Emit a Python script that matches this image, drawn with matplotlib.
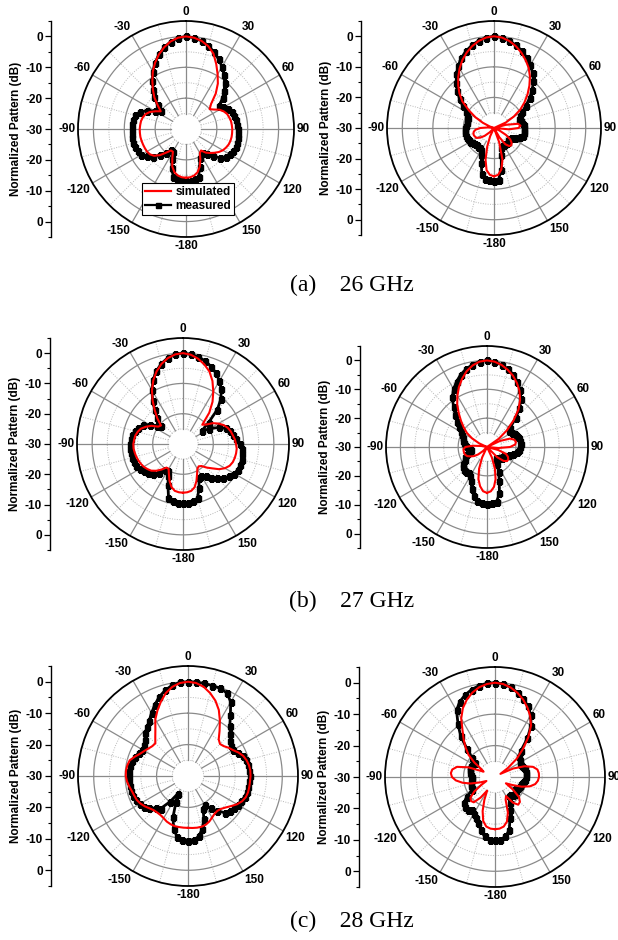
import numpy as np
import matplotlib
matplotlib.use("Agg")
import matplotlib.pyplot as plt
from matplotlib.lines import Line2D

plt.rcParams['font.family'] = ['Liberation Sans', 'DejaVu Sans']

# sample angles in degrees (clockwise, 0 = broadside), -180 ... 175
ANGLES = np.arange(-180, 180, 5)

# 26 GHz, left / right pattern (dB)
P26_L_SIM = [-14.2, -14.3, -14.7, -15.5, -17.0, -19.5, -21.5, -21.5, -20.0, -18.0, -16.5, -15.7,
             -15.4, -15.3, -15.2, -15.1, -15.0, -15.0, -15.0, -15.1, -15.2, -15.5, -16.0, -17.0,
             -18.5, -20.0, -18.0, -15.5, -13.3, -11.0, -8.5, -6.3, -4.3, -2.6, -1.2, -0.3,
             0.0, -0.3, -1.0, -2.2, -4.0, -6.8, -9.5, -12.0, -15.0, -18.5, -20.0, -19.0,
             -17.5, -16.5, -15.8, -15.5, -15.2, -15.1, -15.0, -15.0, -15.0, -15.1, -15.3, -15.7,
             -16.2, -17.0, -18.0, -19.0, -20.0, -21.5, -21.0, -19.0, -17.0, -15.5, -14.7, -14.3]
P26_L_MEAS = [-13.2, -13.3, -13.6, -14.0, -16.6, -19.2, -21.5, -21.5, -20.0, -18.0, -16.0, -14.5,
              -13.3, -12.8, -12.5, -12.3, -12.3, -12.3, -12.4, -12.5, -12.7, -13.0, -14.0, -16.0,
              -18.5, -20.0, -18.0, -15.5, -13.5, -11.0, -8.5, -6.3, -4.3, -2.6, -1.3, -0.4,
              0.0, -0.3, -1.0, -2.0, -3.5, -5.0, -6.7, -8.5, -10.5, -12.5, -14.5, -17.0,
              -16.0, -15.0, -14.3, -13.8, -13.5, -13.3, -13.2, -13.1, -13.0, -12.9, -12.8, -13.2,
              -13.7, -14.3, -15.5, -17.5, -19.5, -20.5, -20.5, -19.5, -17.0, -14.0, -13.4, -13.2]
P26_R_SIM = [-14.2, -14.6, -16.0, -19.3, -23.5, -27.0, -30.0, -30.0, -30.0, -28.0, -26.0, -24.5,
             -23.5, -23.2, -23.0, -23.0, -23.3, -24.0, -25.5, -28.0, -30.0, -30.0, -28.5, -26.0,
             -23.0, -20.0, -16.5, -14.0, -11.8, -9.6, -7.5, -5.5, -3.8, -2.3, -1.1, -0.3,
             0.0, -0.3, -1.1, -2.3, -3.8, -5.5, -7.3, -9.5, -12.0, -14.5, -17.0, -19.5,
             -22.5, -25.7, -30.0, -26.0, -22.0, -21.3, -22.0, -25.0, -30.0, -30.0, -30.0, -28.0,
             -25.5, -23.5, -22.5, -22.0, -22.3, -23.5, -26.5, -30.0, -25.0, -19.3, -16.2, -14.6]
P26_R_MEAS = [-12.6, -12.8, -13.2, -14.5, -17.9, -20.2, -21.7, -22.0, -22.0, -22.0, -21.8, -21.5,
              -21.0, -20.8, -20.6, -20.5, -20.4, -20.4, -20.4, -20.7, -21.0, -21.0, -20.8, -20.3,
              -19.5, -17.5, -15.3, -13.0, -10.8, -8.5, -6.5, -4.7, -3.2, -2.0, -1.0, -0.3,
              0.0, -0.3, -1.0, -2.0, -3.2, -4.6, -6.2, -8.0, -10.0, -12.3, -14.8, -17.3,
              -19.3, -20.5, -21.2, -21.0, -20.6, -20.3, -20.3, -20.2, -20.2, -20.3, -21.0, -22.5,
              -23.5, -24.0, -24.0, -23.5, -23.5, -23.5, -23.5, -23.5, -23.0, -20.8, -16.2, -13.0]

# 27 GHz
P27_L_SIM = [-13.9, -14.0, -14.3, -15.3, -17.0, -19.0, -20.5, -20.5, -19.0, -17.5, -16.3, -15.6,
             -15.0, -14.6, -14.3, -14.0, -13.8, -13.6, -13.6, -13.8, -14.0, -14.5, -15.2, -16.5,
             -18.0, -20.0, -20.5, -18.0, -15.5, -12.5, -9.5, -6.8, -4.5, -2.6, -1.2, -0.3,
             0.0, -0.4, -1.4, -2.8, -4.5, -7.0, -10.0, -13.0, -16.5, -21.0, -20.0, -18.0,
             -16.5, -15.2, -14.3, -13.7, -13.3, -12.8, -12.5, -12.2, -12.2, -12.3, -12.5, -13.0,
             -14.0, -15.5, -17.5, -19.0, -20.5, -21.0, -20.5, -19.0, -17.0, -15.2, -14.3, -14.0]
P27_L_MEAS = [-10.4, -10.5, -10.8, -11.5, -15.5, -18.5, -19.8, -19.5, -17.5, -16.0, -15.0, -14.2,
              -13.5, -13.0, -12.7, -12.5, -12.5, -12.5, -12.5, -12.7, -13.0, -13.5, -14.2, -15.5,
              -17.3, -19.5, -20.5, -18.0, -15.5, -12.5, -9.5, -6.6, -4.3, -2.5, -1.1, -0.3,
              0.0, -0.3, -0.8, -1.6, -2.8, -4.2, -6.0, -8.0, -10.5, -14.0, -19.0, -22.5,
              -20.0, -17.0, -15.0, -14.0, -13.3, -12.3, -11.3, -10.6, -10.2, -10.0, -9.9, -10.0,
              -10.5, -11.3, -12.6, -14.0, -15.5, -17.0, -17.8, -17.5, -14.5, -11.5, -10.8, -10.5]
P27_R_SIM = [-14.1, -14.6, -16.2, -18.5, -22.0, -26.0, -30.0, -30.0, -30.0, -28.0, -26.0, -24.5,
             -23.5, -22.5, -22.0, -21.8, -21.8, -21.8, -22.5, -25.0, -28.0, -30.0, -30.0, -27.0,
             -24.0, -21.5, -19.5, -17.3, -14.8, -12.0, -9.5, -7.0, -4.8, -2.8, -1.3, -0.3,
             0.0, -0.3, -1.1, -2.3, -3.7, -5.5, -7.5, -10.0, -13.0, -17.0, -21.0, -25.0,
             -30.0, -25.0, -21.5, -20.2, -19.8, -20.2, -22.0, -26.0, -30.0, -26.0, -23.0, -22.0,
             -21.5, -21.5, -22.5, -25.0, -30.0, -30.0, -30.0, -26.0, -22.0, -18.5, -16.0, -14.6]
P27_R_MEAS = [-10.4, -10.6, -11.0, -12.5, -14.5, -17.0, -18.5, -19.0, -18.8, -18.5, -19.0, -20.0,
              -21.0, -21.7, -22.5, -24.0, -24.5, -24.0, -23.0, -22.5, -22.0, -21.5, -21.0, -20.5,
              -19.5, -18.0, -16.5, -14.5, -12.0, -9.0, -6.8, -5.0, -3.3, -2.0, -1.0, -0.3,
              0.0, -0.3, -1.0, -2.0, -3.3, -5.0, -7.0, -9.5, -12.5, -16.0, -19.5, -20.5,
              -20.0, -19.3, -18.8, -18.5, -18.3, -18.3, -18.5, -18.8, -19.3, -20.5, -22.0, -23.0,
              -23.5, -23.5, -24.0, -24.5, -25.0, -24.5, -23.0, -20.5, -17.5, -13.4, -10.8, -10.5]

# 28 GHz
P28_L_SIM = [-13.5, -13.5, -13.5, -13.5, -13.7, -14.0, -14.5, -14.8, -14.8, -14.6, -14.0, -13.2,
             -12.5, -12.0, -11.8, -11.5, -11.0, -10.5, -10.2, -10.2, -10.4, -10.8, -12.0, -13.2,
             -14.0, -14.7, -15.2, -15.3, -13.8, -11.9, -9.2, -7.0, -4.8, -2.7, -1.2, -0.3,
             0.0, -0.3, -1.2, -2.7, -4.5, -6.8, -9.7, -12.5, -14.8, -15.6, -15.2, -14.3,
             -13.5, -12.3, -11.3, -10.7, -10.3, -10.1, -10.1, -10.2, -10.2, -10.2, -10.4, -11.0,
             -12.0, -13.3, -14.4, -15.2, -15.5, -15.3, -14.7, -14.0, -13.5, -13.3, -13.3, -13.4]
P28_L_MEAS = [-9.3, -9.5, -10.2, -12.5, -16.0, -21.0, -23.5, -20.0, -16.5, -15.5, -14.0, -13.0,
              -12.3, -11.8, -11.5, -11.3, -11.2, -11.2, -11.2, -11.2, -11.3, -11.5, -12.0, -12.7,
              -13.2, -13.0, -12.0, -10.8, -9.8, -8.5, -6.8, -5.0, -3.2, -1.8, -0.7, -0.1,
              0.0, 0.0, -0.1, -0.2, -0.3, -0.8, -2.8, -6.5, -9.3, -11.0, -12.5, -13.3,
              -13.5, -12.5, -11.5, -10.8, -10.5, -10.4, -10.4, -10.4, -10.5, -10.6, -10.8, -11.3,
              -11.8, -12.3, -12.5, -13.5, -15.5, -17.5, -19.5, -18.5, -15.3, -12.5, -10.5, -9.5]
P28_R_SIM = [-13.4, -13.5, -14.0, -15.5, -18.5, -22.0, -25.0, -22.0, -19.5, -19.2, -19.8, -22.0,
             -25.0, -27.0, -25.0, -22.0, -19.5, -17.5, -16.3, -15.9, -16.2, -17.5, -21.0, -26.0,
             -25.0, -22.0, -19.0, -16.8, -14.5, -12.0, -8.5, -5.8, -3.8, -2.2, -1.0, -0.3,
             0.0, -0.3, -1.1, -2.3, -3.8, -5.6, -7.6, -10.0, -13.5, -17.5, -21.0, -25.0,
             -28.0, -23.6, -20.0, -17.5, -16.3, -16.0, -16.0, -16.3, -17.0, -18.5, -21.0, -24.0,
             -26.0, -23.0, -20.0, -18.8, -18.5, -20.0, -23.0, -22.0, -18.0, -15.3, -14.0, -13.5]
P28_R_MEAS = [-9.8, -10.0, -10.8, -12.5, -14.5, -15.5, -16.5, -17.0, -16.5, -16.5, -17.0, -19.0,
              -21.5, -22.0, -22.0, -22.0, -22.2, -22.5, -22.6, -22.4, -22.0, -21.7, -21.4, -21.5,
              -22.0, -22.3, -20.5, -17.5, -13.0, -9.5, -5.5, -3.5, -2.2, -1.2, -0.5, -0.1,
              0.0, -0.3, -1.0, -2.2, -3.5, -5.2, -7.2, -10.0, -14.0, -18.5, -20.0, -20.3,
              -20.8, -20.8, -20.5, -20.2, -20.0, -20.0, -20.0, -20.5, -21.0, -21.3, -21.5, -22.0,
              -22.5, -22.0, -21.5, -22.0, -22.5, -22.5, -20.5, -18.5, -16.0, -12.5, -10.8, -10.0]

THETA_TICKS = [0, 30, 60, 90, 120, 150, 180, 210, 240, 270, 300, 330]
THETA_LABELS = ["0", "30", "60", "90", "120", "150", "-180", "-150", "-120", "-90", "-60", "-30"]
# left scale: 0 at top, -30 at the centre, 0 again at the bottom
SCALE_POS = [30, 20, 10, 0, -10, -20, -30]
SCALE_LABELS = ["0", "-10", "-20", "-30", "-20", "-10", "0"]
CAPTIONS = ["(a)    26 GHz", "(b)    27 GHz", "(c)    28 GHz"]
LEGEND_LABELS = ["simulated", "measured"]

R_MIN, R_MAX = -30, 5
W, H = 618, 940

# (centre x, centre y, radius, left scale x) in pixels
LAYOUT = [(186, 129, 108, 51), (494, 128, 107, 361),
          (183, 444, 106, 50), (487, 447, 101, 360),
          (188, 776, 110, 51), (495, 777, 110, 359)]
CAPTION_Y = [285, 601, 921]


def draw_panel(fig, cx, cy, rad, sx, sim, meas):
    ax = fig.add_axes([(cx - rad) / W, 1 - (cy + rad) / H, 2 * rad / W, 2 * rad / H],
                      projection='polar')
    ax.set_theta_zero_location('N')
    ax.set_theta_direction(-1)
    ax.set_ylim(R_MIN, R_MAX)
    ax.set_xticks([])
    ax.set_yticks([])
    ax.grid(False)
    ax.spines['polar'].set_linewidth(1.3)

    full = np.linspace(0, 2 * np.pi, 400)
    for r in (-25, -15, -5):
        ax.plot(full, np.full_like(full, r), color='#b8b8b8', lw=0.7, ls=(0, (1, 1.5)), zorder=1)
    for r in (-20, -10, 0):
        ax.plot(full, np.full_like(full, r), color='#8a8a8a', lw=0.9, zorder=1)
    for t in range(0, 360, 30):
        ax.plot([np.deg2rad(t)] * 2, [-25, R_MAX], color='#8a8a8a', lw=0.9, zorder=1)
    for t in range(15, 360, 30):
        ax.plot([np.deg2rad(t)] * 2, [-25, R_MAX], color='#b8b8b8', lw=0.7,
                ls=(0, (1, 1.5)), zorder=1)

    th = np.deg2rad(np.append(ANGLES, ANGLES[0]))
    ax.plot(th, np.append(meas, meas[0]), color='black', lw=2.0, marker='s', ms=3.6, zorder=3)
    ax.plot(th, np.append(sim, sim[0]), color='red', lw=1.5, zorder=4)

    for t, lab in zip(THETA_TICKS, THETA_LABELS):
        s, c = np.sin(np.deg2rad(t)), np.cos(np.deg2rad(t))
        ha = 'left' if s > 0.3 else ('right' if s < -0.3 else 'center')
        va = 'bottom' if c > 0.3 else ('top' if c < -0.3 else 'center')
        ax.annotate(lab, xy=(np.deg2rad(t), R_MAX), xytext=(2 * s, 2 * c),
                    textcoords='offset points', ha=ha, va=va, fontsize=8.5,
                    fontweight='bold', annotation_clip=False)

    # linear scale at the left
    axl = fig.add_axes([sx / W, 1 - (cy + rad) / H, 0.0001, 2 * rad / H])
    axl.patch.set_visible(False)
    for side in ('top', 'right', 'bottom'):
        axl.spines[side].set_visible(False)
    axl.spines['left'].set_linewidth(1.0)
    axl.set_ylim(-35, 35)
    axl.set_xticks([])
    axl.set_yticks(SCALE_POS)
    axl.set_yticklabels(SCALE_LABELS, fontweight='bold')
    axl.set_yticks(np.arange(-35, 36, 10), minor=True)
    axl.tick_params(axis='y', which='major', length=4, width=0.9, labelsize=8.5, pad=2)
    axl.tick_params(axis='y', which='minor', length=2.5, width=0.8)
    fig.text((sx - 35) / W, 1 - cy / H, "Normalized Pattern (dB)", rotation=90,
             ha='center', va='center', fontsize=8.5, fontweight='bold')


fig = plt.figure(figsize=(6.18, 9.40), dpi=100)

series = [(P26_L_SIM, P26_L_MEAS), (P26_R_SIM, P26_R_MEAS),
          (P27_L_SIM, P27_L_MEAS), (P27_R_SIM, P27_R_MEAS),
          (P28_L_SIM, P28_L_MEAS), (P28_R_SIM, P28_R_MEAS)]
for (cx, cy, rad, sx), (sim, meas) in zip(LAYOUT, series):
    draw_panel(fig, cx, cy, rad, sx, sim, meas)

handles = [Line2D([], [], color='red', lw=1.6),
           Line2D([], [], color='black', lw=1.6, marker='s', ms=3.6)]
leg = fig.legend(handles, LEGEND_LABELS, loc='upper left', bbox_to_anchor=(142 / W, 1 - 183 / H),
                 frameon=True, fancybox=False, edgecolor='black', framealpha=1,
                 prop={'weight': 'bold', 'size': 8.5}, borderpad=0.25, labelspacing=0.15,
                 handlelength=2.2, handletextpad=0.4, borderaxespad=0)
leg.get_frame().set_linewidth(0.8)

for cap, yc in zip(CAPTIONS, CAPTION_Y):
    fig.text(352 / W, 1 - yc / H, cap, ha='center', va='center',
             fontfamily='Liberation Serif', fontsize=17)

fig.savefig('out.png', dpi=100)
